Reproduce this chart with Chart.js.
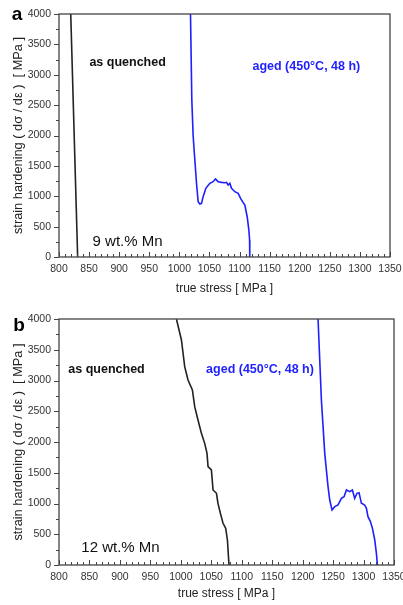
<!DOCTYPE html>
<html>
<head>
<meta charset="utf-8">
<script src="https://cdn.jsdelivr.net/npm/chart.js@4.4.1/dist/chart.umd.min.js"></script>
<style>
  body { margin: 0; background: #fff; }
  .panel { position: relative; width: 403px; }
  #wrapA { height: 300px; }
  #wrapB { height: 305px; }
</style>
</head>
<body>
<div class="panel" id="wrapA"><canvas id="chartA"></canvas></div>
<div class="panel" id="wrapB"><canvas id="chartB"></canvas></div>
<script>
// panel a : 9 wt.% Mn
const aQuenchedStress = [819.5, 831];
const aQuenchedHardening = [4000, 0];
const aAgedStress = [1018.5, 1020.7, 1022.9, 1024.5, 1028.5, 1031.2, 1034, 1036.8, 1039.5, 1044, 1050.6, 1056, 1060, 1064.4, 1070, 1075.6, 1078.4, 1081, 1083.9, 1086.6, 1092.2, 1097.7, 1101.7, 1105, 1108.8, 1112.7, 1115.5, 1116.7, 1117];
const aAgedHardening = [4000, 2584, 2000, 1761, 1213, 911, 872, 883, 993, 1130, 1213, 1240, 1284, 1240, 1229, 1223, 1229, 1185, 1213, 1130, 1075, 1048, 966, 911, 856, 663, 444, 280, 0];

// panel b : 12 wt.% Mn
const bQuenchedStress = [992.8, 1001, 1006.4, 1011.8, 1019, 1022.8, 1028.2, 1033.8, 1039.2, 1043, 1044.7, 1050.2, 1052.9, 1058.5, 1061, 1065, 1069.3, 1073.7, 1076.5, 1079.1];
const bQuenchedHardening = [4000, 3659, 3225, 3008, 2846, 2575, 2358, 2141, 1978, 1816, 1599, 1545, 1220, 1166, 1003, 840, 678, 596, 407, 0];
const bAgedStress = [1225.3, 1230.8, 1236.3, 1241.7, 1244.5, 1248.3, 1252.7, 1258.1, 1263.7, 1268, 1271.9, 1277.3, 1281.7, 1285.5, 1289.3, 1292.6, 1296.5, 1301.9, 1304.7, 1307.3, 1311.3, 1314.6, 1318.4, 1321.1, 1322.8];
const bAgedHardening = [4000, 2683, 1816, 1274, 1057, 894, 949, 976, 1084, 1111, 1220, 1193, 1220, 1084, 1166, 1176, 1003, 976, 922, 786, 705, 596, 407, 190, 0];

const xTicks = [800, 850, 900, 950, 1000, 1050, 1100, 1150, 1200, 1250, 1300, 1350];
const yTicks = [0, 500, 1000, 1500, 2000, 2500, 3000, 3500, 4000];

function pts(xs, ys) {
  return xs.map((x, i) => ({ x: x, y: ys[i] }));
}

const FONT = "'Liberation Sans', Arial, sans-serif";

const framePlugin = {
  id: "frame",
  afterDraw(chart, args, opts) {
    const ctx = chart.ctx;
    const a = chart.chartArea;
    const xs = chart.scales.x;
    const ys = chart.scales.y;
    ctx.save();
    ctx.strokeStyle = "#444";
    ctx.lineWidth = 1.3;
    ctx.strokeRect(a.left, a.top, a.right - a.left, a.bottom - a.top);
    ctx.lineWidth = 1;
    // x ticks, inward
    for (let v = 800; v <= 1350; v += 10) {
      const px = Math.round(xs.getPixelForValue(v)) + 0.5;
      const len = v % 50 === 0 ? 5 : 3;
      ctx.beginPath();
      ctx.moveTo(px, a.bottom);
      ctx.lineTo(px, a.bottom - len);
      ctx.stroke();
    }
    // y ticks, outward
    for (let v = 0; v <= 4000; v += 250) {
      const py = Math.round(ys.getPixelForValue(v)) + 0.5;
      const len = v % 500 === 0 ? 5 : 3;
      ctx.beginPath();
      ctx.moveTo(a.left, py);
      ctx.lineTo(a.left - len, py);
      ctx.stroke();
    }
    // annotations
    ctx.textAlign = "center";
    ctx.textBaseline = "middle";
    opts.notes.forEach(n => {
      ctx.fillStyle = n.color;
      ctx.font = n.font;
      ctx.fillText(n.text, xs.getPixelForValue(n.x), ys.getPixelForValue(n.y));
    });
    ctx.fillStyle = "#000";
    ctx.font = "bold 19px " + FONT;
    ctx.fillText(opts.letter, opts.letterPos[0], opts.letterPos[1]);
    ctx.restore();
  }
};

function makeChart(id, quenched, aged, pad, xH, notes, letter, letterPos) {
  return new Chart(document.getElementById(id), {
    type: "scatter",
    data: {
      datasets: [
        { data: quenched, showLine: true, borderColor: "#222", borderWidth: 1.6, pointRadius: 0 },
        { data: aged, showLine: true, borderColor: "#1f1fff", borderWidth: 1.6, pointRadius: 0 }
      ]
    },
    options: {
      responsive: true,
      maintainAspectRatio: false,
      animation: false,
      layout: { padding: pad },
      plugins: {
        legend: { display: false },
        tooltip: { enabled: false },
        frame: { notes: notes, letter: letter, letterPos: letterPos }
      },
      scales: {
        x: {
          type: "linear",
          min: 800, max: 1350,
          afterBuildTicks: s => { s.ticks = xTicks.map(v => ({ value: v })); },
          afterFit: s => { s.height = xH; s.paddingLeft = 0; s.paddingRight = 0; },
          grid: { display: false, drawTicks: false },
          border: { display: false },
          ticks: { padding: 6, color: "#333", font: { family: FONT, size: 10.5 }, maxRotation: 0, callback: v => String(v) },
          title: { display: true, text: "true stress [ MPa ]", color: "#222", padding: { top: 4 }, font: { family: FONT, size: 12 } }
        },
        y: {
          type: "linear",
          min: 0, max: 4000,
          afterBuildTicks: s => { s.ticks = yTicks.map(v => ({ value: v })); },
          afterFit: s => { s.width = 48; s.paddingTop = 0; s.paddingBottom = 0; },
          grid: { display: false, drawTicks: false },
          border: { display: false },
          ticks: { padding: 8, color: "#333", font: { family: FONT, size: 10.5 }, callback: v => String(v) },
          title: { display: true, text: "strain hardening ( d\u03C3 / d\u03B5 )  [ MPa ]", color: "#222", padding: 0, font: { family: FONT, size: 12.8 } }
        }
      }
    },
    plugins: [framePlugin]
  });
}

makeChart("chartA",
  pts(aQuenchedStress, aQuenchedHardening),
  pts(aAgedStress, aAgedHardening),
  { left: 11, top: 14, right: 13, bottom: 0 }, 43,
  [
    { text: "as quenched", x: 914, y: 3193, color: "#111", font: "bold 12.5px " + FONT },
    { text: "aged (450\u00B0C, 48 h)", x: 1211, y: 3128, color: "#1f1fff", font: "bold 12.5px " + FONT },
    { text: "9 wt.% Mn", x: 914, y: 247, color: "#111", font: "15px " + FONT }
  ],
  "a", [17, 15]);

makeChart("chartB",
  pts(bQuenchedStress, bQuenchedHardening),
  pts(bAgedStress, bAgedHardening),
  { left: 11, top: 19, right: 9, bottom: 0 }, 40,
  [
    { text: "as quenched", x: 878, y: 3171, color: "#111", font: "bold 12.5px " + FONT },
    { text: "aged (450\u00B0C, 48 h)", x: 1130, y: 3171, color: "#1f1fff", font: "bold 12.5px " + FONT },
    { text: "12 wt.% Mn", x: 901, y: 276, color: "#111", font: "15px " + FONT }
  ],
  "b", [19, 26]);
</script>
</body>
</html>
